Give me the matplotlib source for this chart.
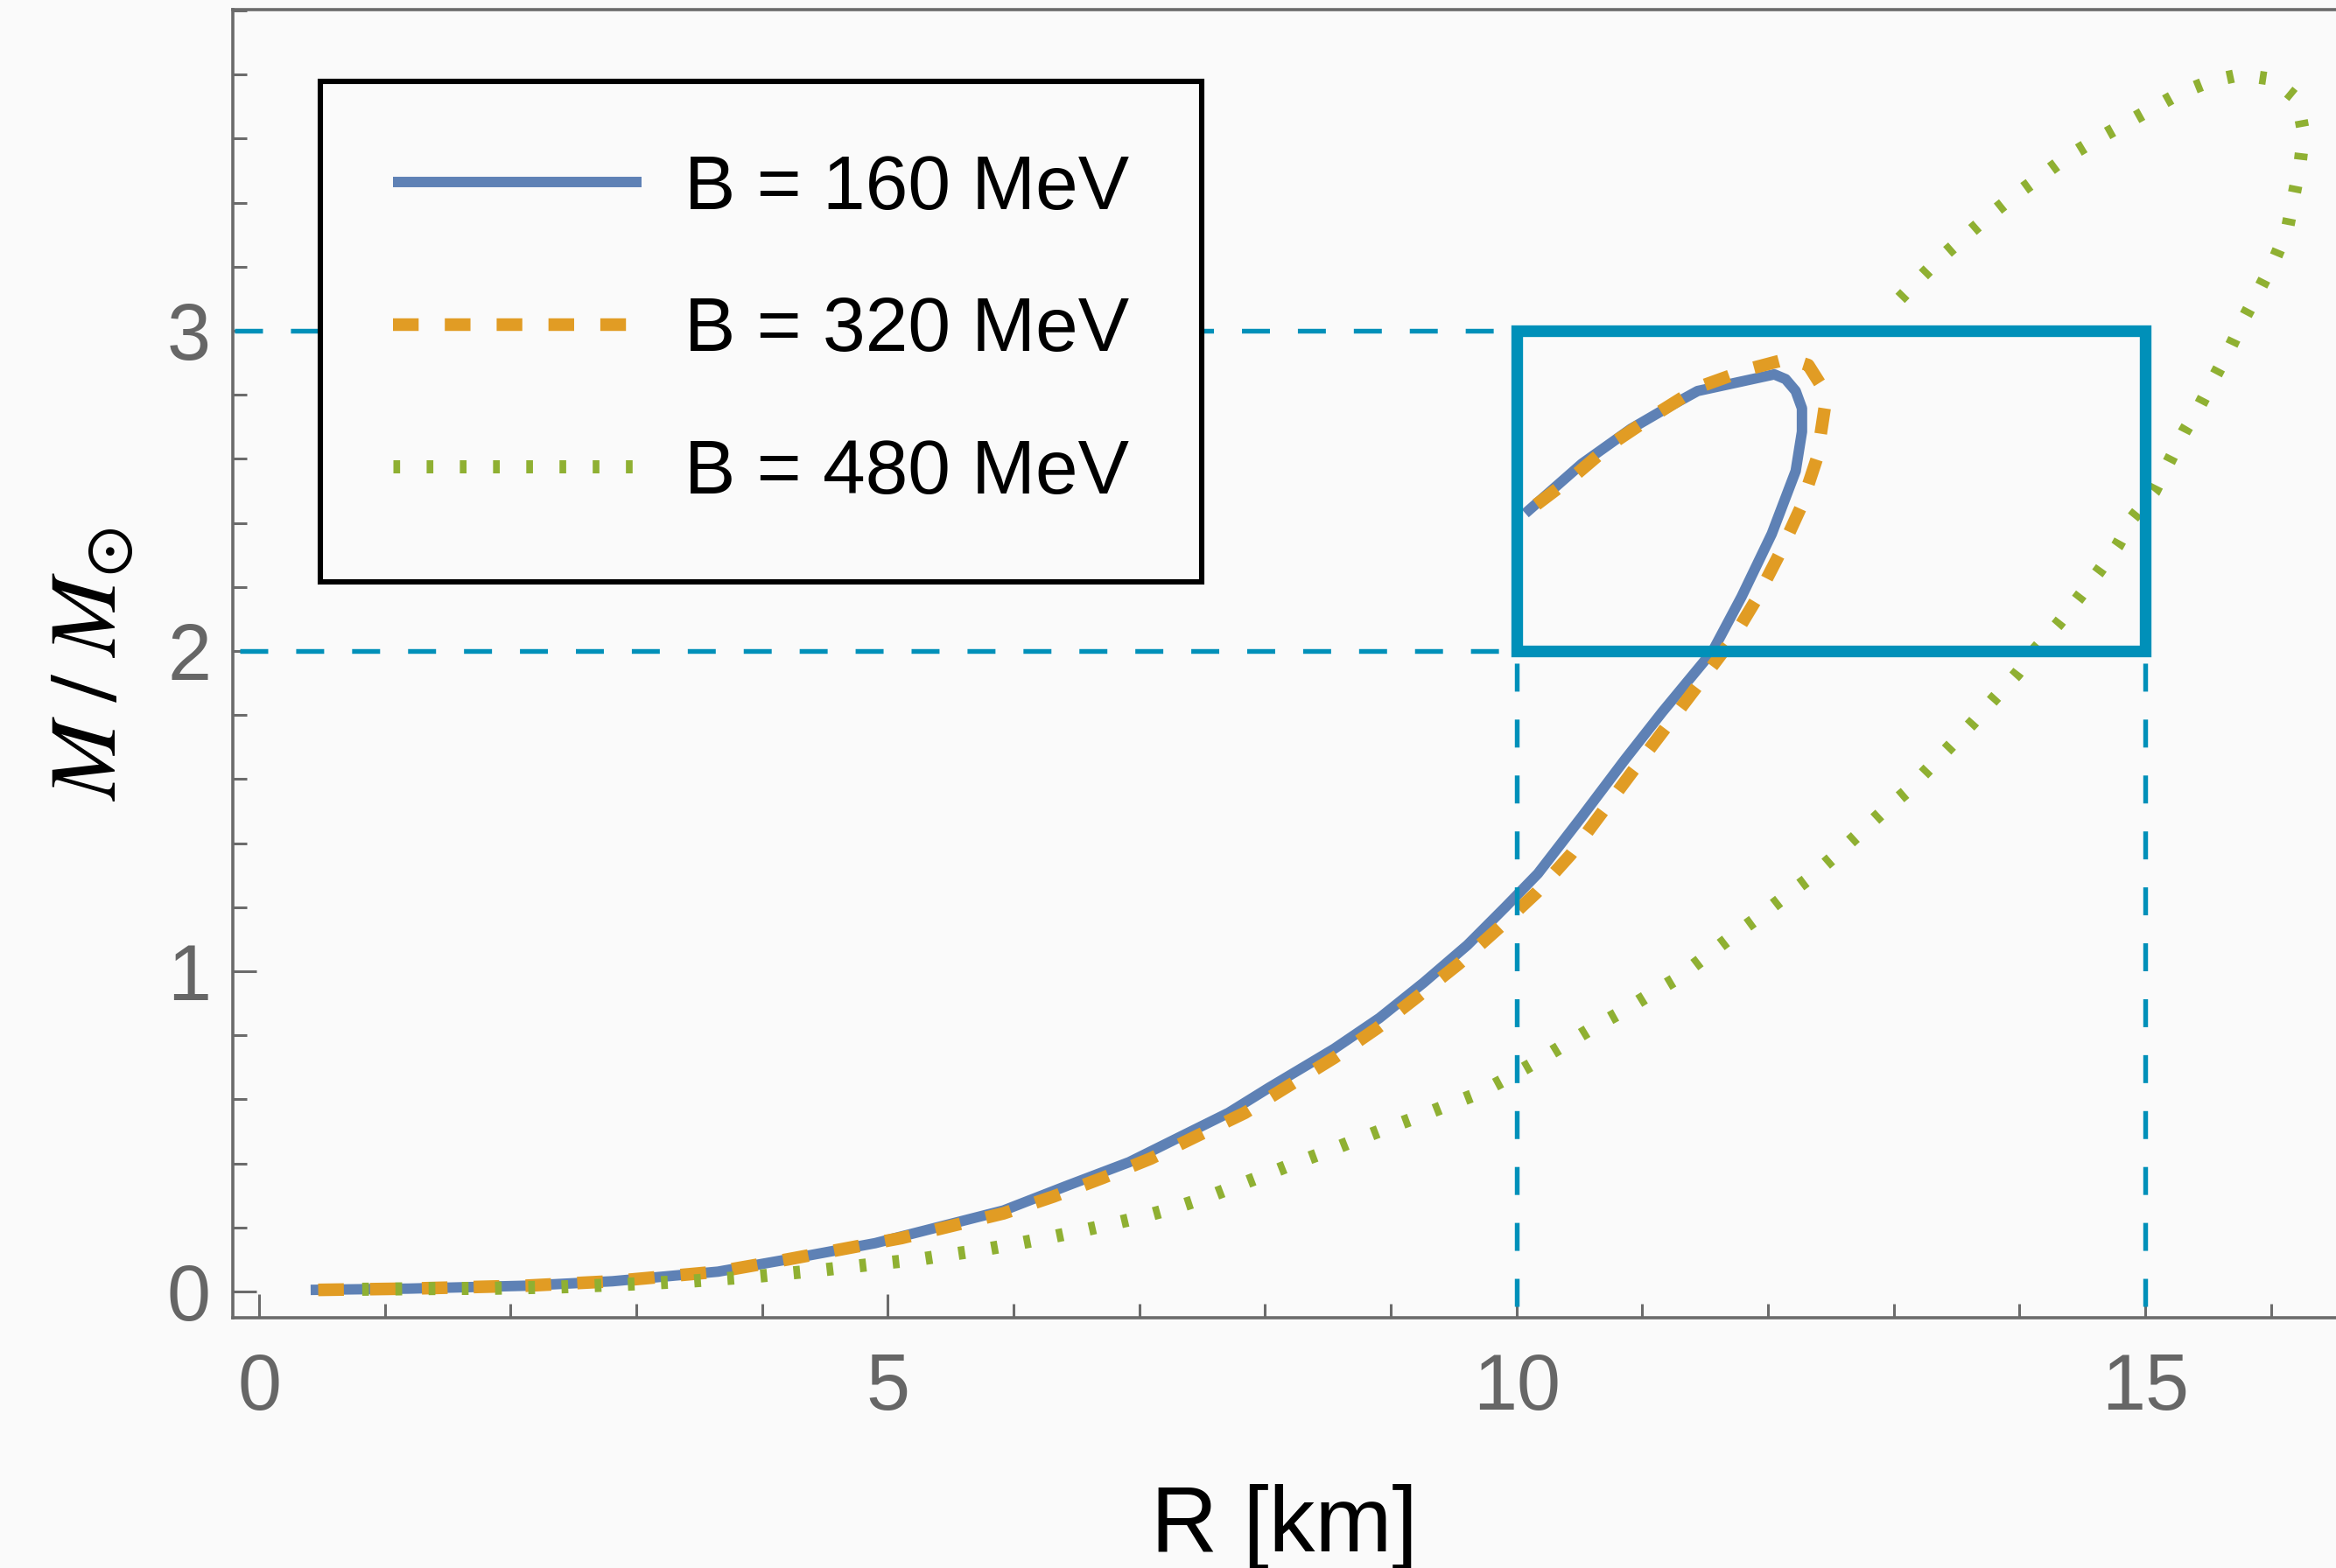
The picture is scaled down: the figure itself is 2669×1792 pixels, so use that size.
import matplotlib
matplotlib.use('Agg')
import matplotlib.pyplot as plt
from matplotlib.ticker import MultipleLocator
from matplotlib.patches import Rectangle

plt.rcParams['font.family'] = ['Liberation Sans', 'DejaVu Sans']
plt.rcParams['mathtext.fontset'] = 'stix'

# ---------------- data ----------------
labels = ['B = 160 MeV', 'B = 320 MeV', 'B = 480 MeV']

r160 = [0.41, 1.19, 2.12, 2.81, 3.65, 4.20, 4.90, 5.60, 5.92, 6.43, 6.92, 7.34,
        7.71, 8.03, 8.38, 8.55, 8.91, 9.26, 9.61, 9.91, 10.17, 10.52, 10.86,
        11.16, 11.56, 11.79, 12.03, 12.22, 12.27, 12.27, 12.22, 12.14, 12.05,
        11.44, 11.19, 10.91, 10.52, 10.07]
m160 = [0.005, 0.009, 0.018, 0.032, 0.062, 0.100, 0.151, 0.221, 0.253, 0.331,
        0.404, 0.486, 0.558, 0.636, 0.718, 0.758, 0.854, 0.964, 1.082, 1.200,
        1.305, 1.483, 1.660, 1.810, 2.000, 2.170, 2.366, 2.562, 2.685, 2.758,
        2.812, 2.849, 2.864, 2.812, 2.758, 2.694, 2.585, 2.430]

r320 = [0.47, 1.19, 2.12, 2.81, 3.65, 4.20, 5.11, 5.52, 5.92, 6.32, 6.71, 7.09,
        7.46, 7.84, 8.19, 8.55, 8.89, 9.22, 9.54, 9.85, 10.16, 10.43, 10.68,
        10.93, 11.44, 11.71, 11.90, 12.09, 12.26, 12.39, 12.45, 12.42, 12.32,
        12.16, 11.85, 11.46, 11.11, 10.76, 10.45, 10.10]
m320 = [0.005, 0.009, 0.018, 0.032, 0.062, 0.100, 0.167, 0.206, 0.244, 0.297,
        0.355, 0.415, 0.486, 0.558, 0.643, 0.730, 0.822, 0.923, 1.023, 1.132,
        1.246, 1.364, 1.496, 1.628, 1.892, 2.033, 2.157, 2.302, 2.448, 2.603,
        2.758, 2.831, 2.893, 2.913, 2.881, 2.826, 2.740, 2.648, 2.544, 2.440]

r480 = [0.82, 1.34, 1.86, 2.38, 2.90, 3.42, 3.95, 4.45, 4.97, 5.24, 5.49, 5.75,
        6.01, 6.26, 6.52, 6.77, 7.02, 7.27, 7.52, 7.76, 8.00, 8.24, 8.49, 8.73,
        8.97, 9.22, 9.46, 9.70, 9.93, 10.16, 10.38, 10.60, 10.83, 11.05, 11.27,
        11.69, 11.90, 12.10, 12.31, 12.51, 12.70, 12.89, 13.09, 13.27, 13.45,
        13.63, 13.80, 13.98, 14.13, 14.31, 14.47, 14.63, 14.78, 14.90, 15.07,
        15.31, 15.44, 15.56, 15.68, 15.79, 15.91, 16.03, 16.13, 16.18, 16.23,
        16.26, 16.21, 16.02, 15.76, 15.52, 15.27, 15.04, 14.82, 14.59, 14.37,
        14.16, 13.95, 13.74, 13.55, 13.35, 13.17, 12.96]
m480 = [0.007, 0.009, 0.010, 0.014, 0.022, 0.032, 0.047, 0.066, 0.089, 0.100,
        0.115, 0.130, 0.148, 0.167, 0.188, 0.210, 0.233, 0.260, 0.292, 0.328,
        0.364, 0.401, 0.437, 0.474, 0.510, 0.546, 0.583, 0.619, 0.667, 0.718,
        0.770, 0.822, 0.872, 0.925, 0.976, 1.102, 1.162, 1.223, 1.285, 1.353,
        1.421, 1.490, 1.557, 1.630, 1.703, 1.777, 1.852, 1.929, 2.006, 2.086,
        2.166, 2.248, 2.330, 2.416, 2.498, 2.685, 2.771, 2.862, 2.951, 3.042,
        3.131, 3.224, 3.318, 3.418, 3.518, 3.616, 3.723, 3.785, 3.800, 3.780,
        3.741, 3.691, 3.643, 3.593, 3.541, 3.480, 3.420, 3.354, 3.289, 3.220,
        3.149, 3.065]

# highlighted region and guide lines
box_r = [10, 15]
box_m = [2, 3]
xticks = [0, 5, 10, 15]
yticks = [0, 1, 2, 3]

# ---------------- styling ----------------
BG = '#fafafa'
C_BLUE = '#5e81b5'
C_ORANGE = '#e19c24'
C_GREEN = '#8fb032'
C_TEAL = '#0090b9'
C_AX = '#6b6b6b'

DPI = 200
W, H = 2669, 1792
fig = plt.figure(figsize=(W / DPI, H / DPI), dpi=DPI, facecolor=BG)
ax = fig.add_axes([266 / W, (H - 1506) / H, 1 - 266 / W, (1506 - 11) / H])
ax.set_facecolor(BG)

ax.set_xlim(-0.209, 16.517)
ax.set_ylim(-0.082, 4.003)

# curves
l1, = ax.plot(r160, m160, color=C_BLUE, lw=4.3, solid_capstyle='butt',
              solid_joinstyle='round', zorder=3, label=labels[0])
l2, = ax.plot(r320, m320, color=C_ORANGE, lw=5.2, dashes=(2.03, 2.07),
              dash_capstyle='butt', zorder=4, label=labels[1])
l3, = ax.plot(r480, m480, color=C_GREEN, lw=5.4, dashes=(0.51, 2.02),
              dash_capstyle='butt', zorder=5, label=labels[2])

# guide lines
glw = 1.95
gd = (5.9, 5.9)
ax.plot([-0.195, box_r[0]], [box_m[1], box_m[1]], color=C_TEAL, lw=glw,
        dashes=gd, dash_capstyle='butt', zorder=6)
ax.plot([-0.155, box_r[0]], [box_m[0], box_m[0]], color=C_TEAL, lw=glw,
        dashes=gd, dash_capstyle='butt', zorder=6)
for xv in box_r:
    ax.plot([xv, xv], [-0.047, box_m[0]], color=C_TEAL, lw=glw,
            dashes=gd, dash_capstyle='butt', zorder=6)

ax.add_patch(Rectangle((box_r[0], box_m[0]), box_r[1] - box_r[0],
                       box_m[1] - box_m[0], fill=False, ec=C_TEAL, lw=4.8,
                       joinstyle='miter', zorder=7))

# axes styling
for s in ['left', 'bottom', 'top']:
    ax.spines[s].set_color(C_AX)
    ax.spines[s].set_linewidth(1.3)
ax.spines['right'].set_visible(False)

ax.xaxis.set_major_locator(MultipleLocator(5))
ax.xaxis.set_minor_locator(MultipleLocator(1))
ax.yaxis.set_major_locator(MultipleLocator(1))
ax.yaxis.set_minor_locator(MultipleLocator(0.2))
ax.set_xticks(xticks)
ax.set_yticks(yticks)

ax.tick_params(which='both', direction='in', color=C_AX, width=1.1,
               top=False, right=False, labelcolor='#666666', labelsize=32.4)
ax.tick_params(which='major', length=9.7)
ax.tick_params(which='minor', length=5.8)
ax.tick_params(axis='x', which='major', pad=14)
ax.tick_params(axis='y', which='major', pad=9)

ax.set_xlabel('R [km]', fontsize=38, color='black')
ax.xaxis.set_label_coords(0.5, -0.127)
ax.set_ylabel(r'$M\;/\;M_{\odot}$', fontsize=39, color='black')
ax.yaxis.set_label_coords(-0.046, 0.5)

leg = ax.legend(handles=[l1, l2, l3], labels=labels, loc='upper left',
                bbox_to_anchor=(0.0416, 0.9452), borderaxespad=0,
                fontsize=31.5, frameon=True, fancybox=False, shadow=False,
                edgecolor='black', facecolor=BG, framealpha=1,
                handlelength=3.25, handletextpad=0.55, labelspacing=0.93,
                borderpad=0.95)
leg.get_frame().set_linewidth(2.2)
leg.set_zorder(10)

fig.savefig('out.png', dpi=DPI, facecolor=BG)
